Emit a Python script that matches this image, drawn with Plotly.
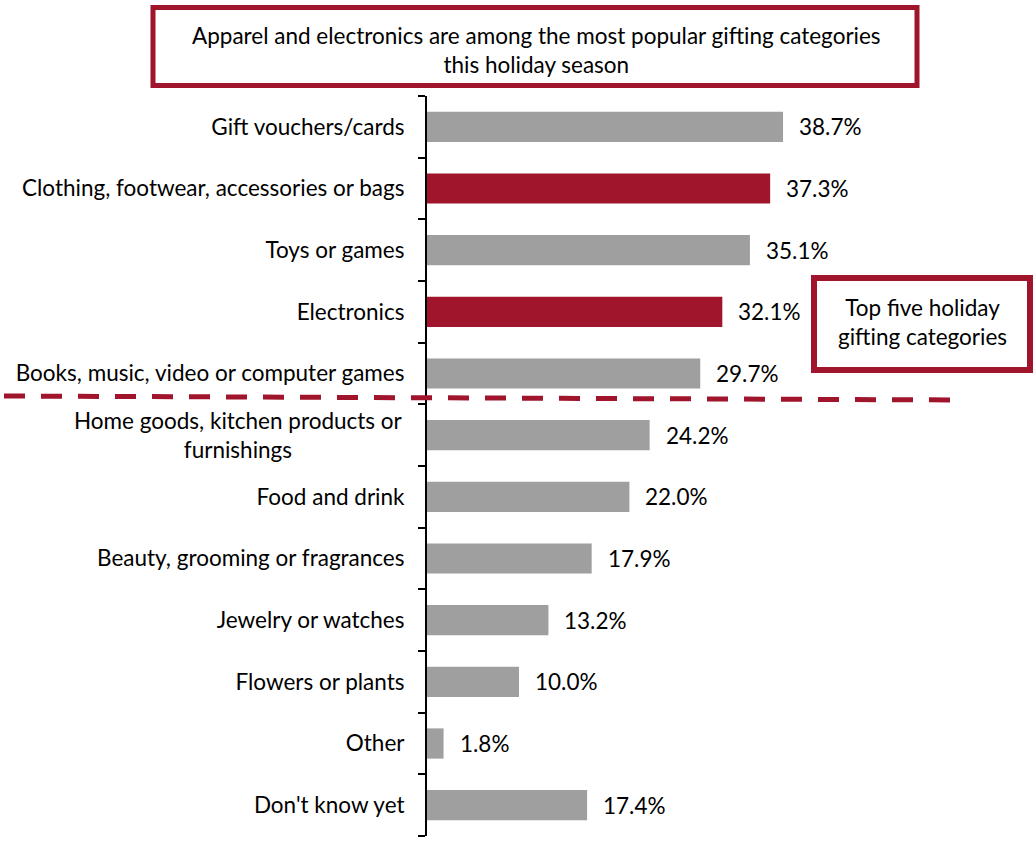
import plotly.graph_objects as go

categories = [
    "Gift vouchers/cards",
    "Clothing, footwear, accessories or bags",
    "Toys or games",
    "Electronics",
    "Books, music, video or computer games",
    "Home goods, kitchen products or<br>furnishings",
    "Food and drink",
    "Beauty, grooming or fragrances",
    "Jewelry or watches",
    "Flowers or plants",
    "Other",
    "Don't know yet",
]
values = [38.7, 37.3, 35.1, 32.1, 29.7, 24.2, 22.0, 17.9, 13.2, 10.0, 1.8, 17.4]
highlight = [False, True, False, True, False, False, False, False, False, False, False, False]

RED = "#A0142C"
GRAY = "#9F9F9F"
FONT = "Lato"
FS = 22.5

W, H = 1036, 844
L, R, T, B = 427, 57, 96, 8
pw, ph = W - L - R, H - T - B

def px_x(x):
    return (x - L) / pw

def px_y(y):
    return (H - B - y) / ph

colors = [RED if h else GRAY for h in highlight]

fig = go.Figure()
fig.add_trace(go.Bar(
    x=values, y=categories, orientation="h",
    marker=dict(color=colors, line=dict(width=0)),
    width=0.49, hoverinfo="skip",
))

for c, v in zip(categories, values):
    fig.add_annotation(x=v, y=c, text=f"{v:.1f}%", showarrow=False,
                       xanchor="left", xshift=14, yshift=0,
                       font=dict(family=FONT, size=FS, color="black"))

# tick labels: multi-line labels drawn centred like the original
ticktext = []
for c in categories:
    if "<br>" in c:
        ticktext.append("")
        fig.add_annotation(xref="paper", yref="y", x=px_x(405), y=c, text=c,
                           showarrow=False, xanchor="right", yanchor="middle",
                           align="center",
                           font=dict(family=FONT, size=FS, color="black"))
    else:
        ticktext.append(c)

# title box
fig.add_shape(type="rect", xref="paper", yref="paper",
              x0=px_x(153), x1=px_x(917), y0=px_y(85.5), y1=px_y(7.5),
              line=dict(color=RED, width=5), fillcolor="white", layer="above")
fig.add_annotation(xref="paper", yref="paper", x=px_x(536), y=px_y(50),
                   text="Apparel and electronics are among the most popular gifting categories<br>this holiday season",
                   showarrow=False, xanchor="center", yanchor="middle",
                   font=dict(family=FONT, size=FS, color="black"))

# side box
fig.add_shape(type="rect", xref="paper", yref="paper",
              x0=px_x(814), x1=px_x(1030), y0=px_y(370), y1=px_y(278),
              line=dict(color=RED, width=6), fillcolor="white", layer="above")
fig.add_annotation(xref="paper", yref="paper", x=px_x(922), y=px_y(322),
                   text="Top five holiday<br>gifting categories",
                   showarrow=False, xanchor="center", yanchor="middle",
                   font=dict(family=FONT, size=FS, color="black"))

# dashed separator
fig.add_shape(type="line", xref="paper", yref="paper",
              x0=px_x(4), x1=px_x(960), y0=px_y(396), y1=px_y(400),
              line=dict(color=RED, width=5, dash="21px,16px"), layer="above")

fig.update_layout(
    width=W, height=H,
    margin=dict(l=L, r=R, t=T, b=B, pad=0),
    plot_bgcolor="white", paper_bgcolor="white",
    showlegend=False,
    font=dict(family=FONT, size=FS, color="black"),
    xaxis=dict(range=[0, 60], visible=False, fixedrange=True),
    yaxis=dict(
        type="category", categoryorder="array", categoryarray=categories,
        tickmode="array", tickvals=categories, ticktext=ticktext,
        autorange="reversed", showline=True, linecolor="black", linewidth=2,
        ticks="outside", ticklen=7, tickwidth=2, tickcolor="black",
        tickson="boundaries", showgrid=False, ticklabelstandoff=16,
        tickfont=dict(family=FONT, size=FS, color="black"),
    ),
)

fig.write_html("out.html")
